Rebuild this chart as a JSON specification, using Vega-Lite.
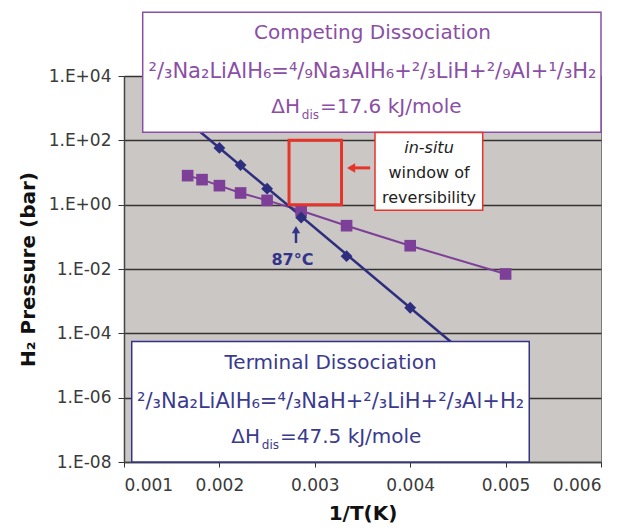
{
  "$schema": "https://vega.github.io/schema/vega-lite/v6.json",
  "width": 477,
  "height": 386,
  "autosize": {"type": "none"},
  "padding": {"left": 124, "top": 76, "right": 25, "bottom": 69},
  "background": "white",
  "config": {
    "view": {"fill": "#cbc7c4", "stroke": "#7a7a7a", "strokeWidth": 1},
    "font": "DejaVu Sans"
  },
  "data": {"values": [{}]},
  "datasets": {
    "terminal": [
      {"invT": 0.002, "p": 58},
      {"invT": 0.002222, "p": 17},
      {"invT": 0.0025, "p": 3.15},
      {"invT": 0.002857, "p": 0.40},
      {"invT": 0.003333, "p": 0.025},
      {"invT": 0.004, "p": 0.000625}
    ],
    "terminalFit": [
      {"invT": 0.0014, "p": 1795},
      {"invT": 0.0047, "p": 0.0000114}
    ],
    "competing": [
      {"invT": 0.001667, "p": 7.98},
      {"invT": 0.001818, "p": 6.0},
      {"invT": 0.002, "p": 3.9},
      {"invT": 0.002222, "p": 2.31},
      {"invT": 0.0025, "p": 1.36},
      {"invT": 0.002857, "p": 0.65},
      {"invT": 0.003333, "p": 0.222},
      {"invT": 0.004, "p": 0.053},
      {"invT": 0.005, "p": 0.0070}
    ]
  },
  "layer": [
    {
      "data": {"name": "competing"},
      "mark": {"type": "line", "color": "#7e3f98", "strokeWidth": 2},
      "encoding": {
        "x": {
          "field": "invT", "type": "quantitative",
          "scale": {"domain": [0.001, 0.006], "nice": false, "zero": false},
          "axis": {
            "title": "1/T(K)", "values": [0.001, 0.002, 0.003, 0.004, 0.005, 0.006],
            "format": ".3f", "grid": false,
            "labelFontSize": 17, "labelColor": "#3a3a3a", "labelPadding": 10,
            "tickSize": 5, "tickColor": "#333333", "domainColor": "#444444", "domainWidth": 1.5,
            "titleFontSize": 20, "titleFontWeight": "bold", "titleColor": "#111111", "titlePadding": 10
          }
        },
        "y": {
          "field": "p", "type": "quantitative",
          "scale": {"type": "log", "domain": [1e-8, 10000], "nice": false},
          "axis": {
            "title": "H₂ Pressure (bar)",
            "values": [1e-8, 1e-6, 1e-4, 1e-2, 1, 100, 10000],
            "labelExpr": "'1.E' + (datum.value >= 0.999 ? '+' : '-') + (abs(round(log(datum.value)/LN10)) < 10 ? '0' : '') + abs(round(log(datum.value)/LN10))",
            "grid": true, "gridColor": "#333333", "gridWidth": 1.5, "gridOpacity": 1,
            "labelFontSize": 17, "labelColor": "#3a3a3a", "labelPadding": 7,
            "tickSize": 6, "tickColor": "#333333", "domainColor": "#444444", "domainWidth": 1.5,
            "titleFontSize": 20, "titleFontWeight": "bold", "titleColor": "#111111", "titlePadding": 10
          }
        }
      }
    },
    {
      "data": {"name": "terminalFit"},
      "mark": {"type": "line", "color": "#2e2e7e", "strokeWidth": 2.5},
      "encoding": {
        "x": {"field": "invT", "type": "quantitative"},
        "y": {"field": "p", "type": "quantitative"}
      }
    },
    {
      "data": {"name": "competing"},
      "mark": {"type": "point", "shape": "square", "filled": true, "size": 135, "color": "#7e3f98", "opacity": 1},
      "encoding": {
        "x": {"field": "invT", "type": "quantitative"},
        "y": {"field": "p", "type": "quantitative"}
      }
    },
    {
      "data": {"name": "terminal"},
      "mark": {"type": "point", "shape": "diamond", "filled": true, "size": 140, "color": "#2e2e7e", "opacity": 1},
      "encoding": {
        "x": {"field": "invT", "type": "quantitative"},
        "y": {"field": "p", "type": "quantitative"}
      }
    },
    {
      "mark": {"type": "rect", "fill": "white", "stroke": "#8a4fa5", "strokeWidth": 1.5},
      "encoding": {
        "x": {"datum": 0.001196, "type": "quantitative"},
        "x2": {"datum": 0.006},
        "y": {"datum": 958000, "type": "quantitative"},
        "y2": {"datum": 177}
      }
    },
    {
      "mark": {"type": "text", "text": "Competing Dissociation", "fontSize": 20, "color": "#8a4fa5", "align": "center", "baseline": "middle"},
      "encoding": {"x": {"datum": 0.003605, "type": "quantitative"}, "y": {"datum": 224000, "type": "quantitative"}}
    },
    {
      "mark": {"type": "text", "text": "²/₃Na₂LiAlH₆=⁴/₉Na₃AlH₆+²/₃LiH+²/₉Al+¹/₃H₂", "fontSize": 21, "color": "#8a4fa5", "align": "center", "baseline": "middle"},
      "encoding": {"x": {"datum": 0.003605, "type": "quantitative"}, "y": {"datum": 13700, "type": "quantitative"}}
    },
    {
      "mark": {"type": "text", "text": "ΔH", "fontSize": 20, "color": "#8a4fa5", "align": "right", "baseline": "middle", "dx": -20},
      "encoding": {"x": {"datum": 0.003055, "type": "quantitative"}, "y": {"datum": 1117, "type": "quantitative"}}
    },
    {
      "mark": {"type": "text", "text": "dis", "fontSize": 12, "color": "#8a4fa5", "align": "right", "baseline": "middle", "dx": -1, "dy": 8},
      "encoding": {"x": {"datum": 0.003055, "type": "quantitative"}, "y": {"datum": 1117, "type": "quantitative"}}
    },
    {
      "mark": {"type": "text", "text": "=17.6 kJ/mole", "fontSize": 20, "color": "#8a4fa5", "align": "left", "baseline": "middle"},
      "encoding": {"x": {"datum": 0.003055, "type": "quantitative"}, "y": {"datum": 1117, "type": "quantitative"}}
    },
    {
      "mark": {"type": "rect", "fill": "white", "stroke": "#33338a", "strokeWidth": 1.5},
      "encoding": {
        "x": {"datum": 0.001081, "type": "quantitative"},
        "x2": {"datum": 0.005248},
        "y": {"datum": 0.000056, "type": "quantitative"},
        "y2": {"datum": 1e-8}
      }
    },
    {
      "mark": {"type": "text", "text": "Terminal Dissociation", "fontSize": 20, "color": "#3a3a8e", "align": "center", "baseline": "middle"},
      "encoding": {"x": {"datum": 0.003165, "type": "quantitative"}, "y": {"datum": 0.0000122, "type": "quantitative"}}
    },
    {
      "mark": {"type": "text", "text": "²/₃Na₂LiAlH₆=⁴/₃NaH+²/₃LiH+²/₃Al+H₂", "fontSize": 21, "color": "#3a3a8e", "align": "center", "baseline": "middle"},
      "encoding": {"x": {"datum": 0.003165, "type": "quantitative"}, "y": {"datum": 7.6e-7, "type": "quantitative"}}
    },
    {
      "mark": {"type": "text", "text": "ΔH", "fontSize": 20, "color": "#3a3a8e", "align": "right", "baseline": "middle", "dx": -20},
      "encoding": {"x": {"datum": 0.002635, "type": "quantitative"}, "y": {"datum": 6.2e-8, "type": "quantitative"}}
    },
    {
      "mark": {"type": "text", "text": "dis", "fontSize": 12, "color": "#3a3a8e", "align": "right", "baseline": "middle", "dx": -1, "dy": 8},
      "encoding": {"x": {"datum": 0.002635, "type": "quantitative"}, "y": {"datum": 6.2e-8, "type": "quantitative"}}
    },
    {
      "mark": {"type": "text", "text": "=47.5 kJ/mole", "fontSize": 20, "color": "#3a3a8e", "align": "left", "baseline": "middle"},
      "encoding": {"x": {"datum": 0.002635, "type": "quantitative"}, "y": {"datum": 6.2e-8, "type": "quantitative"}}
    },
    {
      "mark": {"type": "rect", "fill": null, "fillOpacity": 0, "stroke": "#e5352b", "strokeWidth": 3},
      "encoding": {
        "x": {"datum": 0.00273, "type": "quantitative"},
        "x2": {"datum": 0.00328},
        "y": {"datum": 100, "type": "quantitative"},
        "y2": {"datum": 1}
      }
    },
    {
      "mark": {"type": "rule", "color": "#e5352b", "strokeWidth": 3},
      "encoding": {
        "x": {"datum": 0.00339, "type": "quantitative"},
        "x2": {"datum": 0.00358},
        "y": {"datum": 13.9, "type": "quantitative"}
      }
    },
    {
      "mark": {"type": "point", "shape": "triangle-left", "filled": true, "size": 90, "color": "#e5352b", "opacity": 1},
      "encoding": {"x": {"datum": 0.00338, "type": "quantitative"}, "y": {"datum": 13.9, "type": "quantitative"}}
    },
    {
      "mark": {"type": "rect", "fill": "white", "stroke": "#e5352b", "strokeWidth": 1.5},
      "encoding": {
        "x": {"datum": 0.003631, "type": "quantitative"},
        "x2": {"datum": 0.00476},
        "y": {"datum": 174, "type": "quantitative"},
        "y2": {"datum": 0.665}
      }
    },
    {
      "mark": {"type": "text", "text": "in-situ", "fontSize": 16, "fontStyle": "italic", "color": "#222222", "align": "center", "baseline": "middle"},
      "encoding": {"x": {"datum": 0.004197, "type": "quantitative"}, "y": {"datum": 59.3, "type": "quantitative"}}
    },
    {
      "mark": {"type": "text", "text": "window    of", "fontSize": 16, "color": "#222222", "align": "center", "baseline": "middle"},
      "encoding": {"x": {"datum": 0.004197, "type": "quantitative"}, "y": {"datum": 9.9, "type": "quantitative"}}
    },
    {
      "mark": {"type": "text", "text": "reversibility", "fontSize": 16, "color": "#222222", "align": "center", "baseline": "middle"},
      "encoding": {"x": {"datum": 0.004197, "type": "quantitative"}, "y": {"datum": 1.65, "type": "quantitative"}}
    },
    {
      "mark": {"type": "rule", "color": "#33338a", "strokeWidth": 2.5},
      "encoding": {
        "x": {"datum": 0.002803, "type": "quantitative"},
        "y": {"datum": 0.145, "type": "quantitative"},
        "y2": {"datum": 0.0644}
      }
    },
    {
      "mark": {"type": "point", "shape": "triangle-up", "filled": true, "size": 70, "color": "#33338a", "opacity": 1},
      "encoding": {"x": {"datum": 0.002803, "type": "quantitative"}, "y": {"datum": 0.167, "type": "quantitative"}}
    },
    {
      "mark": {"type": "text", "text": "87°C", "fontSize": 16, "fontWeight": "bold", "color": "#33338a", "align": "center", "baseline": "middle"},
      "encoding": {"x": {"datum": 0.002766, "type": "quantitative"}, "y": {"datum": 0.01946, "type": "quantitative"}}
    }
  ]
}
